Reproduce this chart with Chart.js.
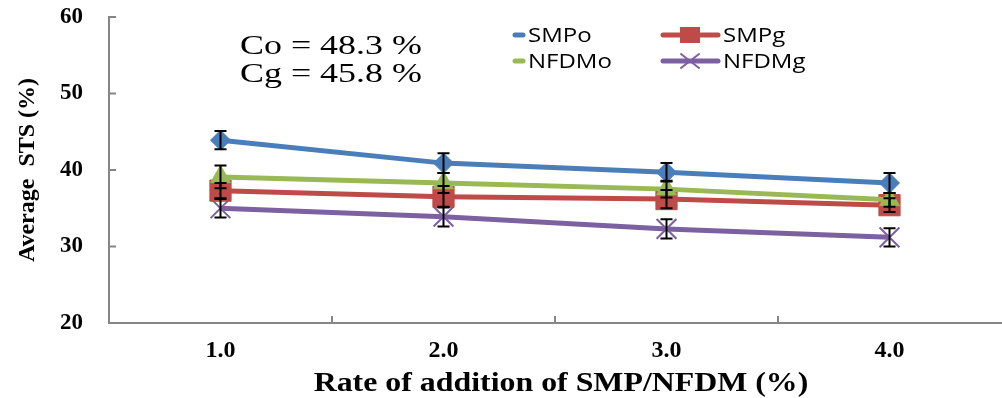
<!DOCTYPE html>
<html>
<head>
<meta charset="utf-8">
<script src="https://cdn.jsdelivr.net/npm/chart.js@4/dist/chart.umd.min.js"></script>
<style>
  html, body { margin: 0; padding: 0; background: #fff; }
  #wrap { width: 1002px; height: 398px; }
</style>
</head>
<body>
<div id="wrap"><canvas id="stsChart" width="1002" height="398"></canvas></div>
<script>
const categories = ["1.0", "2.0", "3.0", "4.0"];
const smpo = [43.9, 40.9, 39.7, 38.3];
const smpg = [37.3, 36.5, 36.2, 35.4];
const nfdmo = [39.1, 38.3, 37.5, 36.1];
const nfdmg = [35.0, 33.9, 32.3, 31.2];
const smpoErr = [1.2, 1.3, 1.2, 1.3];
const smpgErr = [1.0, 1.4, 1.2, 0.9];
const nfdmoErr = [1.5, 1.3, 1.1, 0.9];
const nfdmgErr = [1.2, 1.3, 1.25, 1.2];
const yTicks = [20, 30, 40, 50, 60];
const notes = ["Co = 48.3 %", "Cg = 45.8 %"];
const xTitle = "Rate of addition of SMP/NFDM (%)";

const blue = "#4A7EBB", red = "#BE4B48", green = "#98B954", purple = "#7D60A0";
const serif = "'Liberation Serif', 'Times New Roman', serif";
const axisGray = "#868686";

// error bars, inner tick marks, legend, x title and the Co/Cg note
const extras = {
    id: "extras",
    afterDatasetsDraw(chart) {
        const ctx = chart.ctx;
        const x = chart.scales.x, y = chart.scales.y;
        ctx.save();
        ctx.strokeStyle = "#000";
        ctx.lineWidth = 2;
        chart.data.datasets.forEach(ds => {
            ds.data.forEach((v, i) => {
                const px = x.getPixelForValue(i);
                const top = y.getPixelForValue(v + ds.err[i]);
                const bot = y.getPixelForValue(v - ds.err[i]);
                ctx.beginPath();
                ctx.moveTo(px, top); ctx.lineTo(px, bot);
                ctx.moveTo(px - 6, top); ctx.lineTo(px + 6, top);
                ctx.moveTo(px - 6, bot); ctx.lineTo(px + 6, bot);
                ctx.stroke();
            });
        });
        ctx.restore();
    },
    afterDraw(chart) {
        const ctx = chart.ctx;
        const x = chart.scales.x, y = chart.scales.y;
        const area = chart.chartArea;
        ctx.save();
        ctx.strokeStyle = axisGray;
        ctx.lineWidth = 2;
        ctx.beginPath();
        yTicks.forEach(t => {
            const py = y.getPixelForValue(t);
            ctx.moveTo(area.left, py); ctx.lineTo(area.left + 7, py);
        });
        for (let i = 0; i < categories.length - 1; i++) {
            const px = (x.getPixelForValue(i) + x.getPixelForValue(i + 1)) / 2;
            ctx.moveTo(px, area.bottom); ctx.lineTo(px, area.bottom - 7);
        }
        ctx.stroke();

        ctx.fillStyle = "#000";
        ctx.textBaseline = "middle";

        // x title, stretched like the original
        ctx.font = "bold 27px " + serif;
        ctx.textAlign = "center";
        ctx.save();
        ctx.translate((area.left + area.right) / 2 + 6, 384);
        ctx.scale(1.18, 1);
        ctx.fillText(xTitle, 0, 0);
        ctx.restore();
        ctx.textAlign = "left";

        // note
        ctx.font = "27px " + serif;
        notes.forEach((t, i) => {
            ctx.save();
            ctx.translate(240, 47 + i * 28);
            ctx.scale(1.33, 1);
            ctx.fillText(t, 0, 0);
            ctx.restore();
        });

        // legend
        const items = [
            { text: "SMPo", color: blue, x: 515, y: 35, full: false },
            { text: "NFDMo", color: green, x: 515, y: 61, full: false },
            { text: "SMPg", color: red, x: 663, y: 35, full: true, mark: "sq" },
            { text: "NFDMg", color: purple, x: 663, y: 61, full: true, mark: "x" }
        ];
        items.forEach(it => {
            ctx.strokeStyle = it.color;
            ctx.lineCap = "round";
            ctx.lineWidth = 5;
            ctx.beginPath();
            const end = it.full ? it.x + 55 : it.x + 8;
            ctx.moveTo(it.x, it.y); ctx.lineTo(end, it.y);
            ctx.stroke();
            const mx = it.x + 27;
            if (it.mark === "sq") {
                ctx.fillStyle = it.color;
                ctx.fillRect(mx - 10, it.y - 8, 20, 16);
            } else if (it.mark === "x") {
                ctx.lineWidth = 2;
                ctx.beginPath();
                ctx.moveTo(mx - 9, it.y - 7); ctx.lineTo(mx + 9, it.y + 7);
                ctx.moveTo(mx - 9, it.y + 7); ctx.lineTo(mx + 9, it.y - 7);
                ctx.stroke();
            }
            ctx.fillStyle = "#000";
            ctx.font = "20px 'Open Sans', sans-serif";
            ctx.save();
            ctx.translate(end + 5, it.y + 1);
            ctx.scale(1.2, 1);
            ctx.fillText(it.text, 0, 0);
            ctx.restore();
        });
        ctx.restore();
    }
};

function series(label, data, err, color, style, radius, order) {
    return {
        label: label,
        data: data,
        err: err,
        order: order,
        borderColor: color,
        backgroundColor: color,
        borderWidth: 5,
        pointStyle: style,
        pointRadius: radius,
        pointHoverRadius: radius,
        pointBackgroundColor: color,
        pointBorderColor: color,
        pointBorderWidth: style === "crossRot" ? 2 : 1,
        tension: 0,
        fill: false
    };
}

const ctxSts = document.getElementById("stsChart").getContext("2d");
new Chart(ctxSts, {
    type: "line",
    data: {
        labels: categories,
        datasets: [
            series("SMPo", smpo, smpoErr, blue, "rectRot", 10, 1),
            series("SMPg", smpg, smpgErr, red, "rect", 15, 3),
            series("NFDMo", nfdmo, nfdmoErr, green, "triangle", 11.5, 2),
            series("NFDMg", nfdmg, nfdmgErr, purple, "crossRot", 14, 4)
        ]
    },
    options: {
        responsive: false,
        animation: false,
        layout: { autoPadding: false, padding: { top: 17, right: 1, left: 0, bottom: 0 } },
        plugins: { legend: { display: false }, tooltip: { enabled: false } },
        scales: {
            x: {
                type: "category",
                offset: true,
                grid: { display: false, drawTicks: false },
                border: { color: axisGray, width: 2 },
                ticks: { color: "#000", padding: 13, font: { family: serif, size: 24, weight: "bold" } },
                afterFit: s => { s.height = 75; }
            },
            y: {
                min: 20,
                max: 60,
                ticks: { stepSize: 10, color: "#000", padding: 26, font: { family: serif, size: 23, weight: "bold" } },
                grid: { display: false, drawTicks: false },
                border: { color: axisGray, width: 2 },
                title: {
                    display: true,
                    text: "Average  STS (%)",
                    color: "#000",
                    font: { family: serif, size: 24, weight: "bold" },
                    padding: { top: 13, bottom: 0 }
                },
                afterFit: s => { s.width = 109; s.paddingTop = 0; s.paddingBottom = 0; }
            }
        }
    },
    plugins: [extras]
});
</script>
</body>
</html>
